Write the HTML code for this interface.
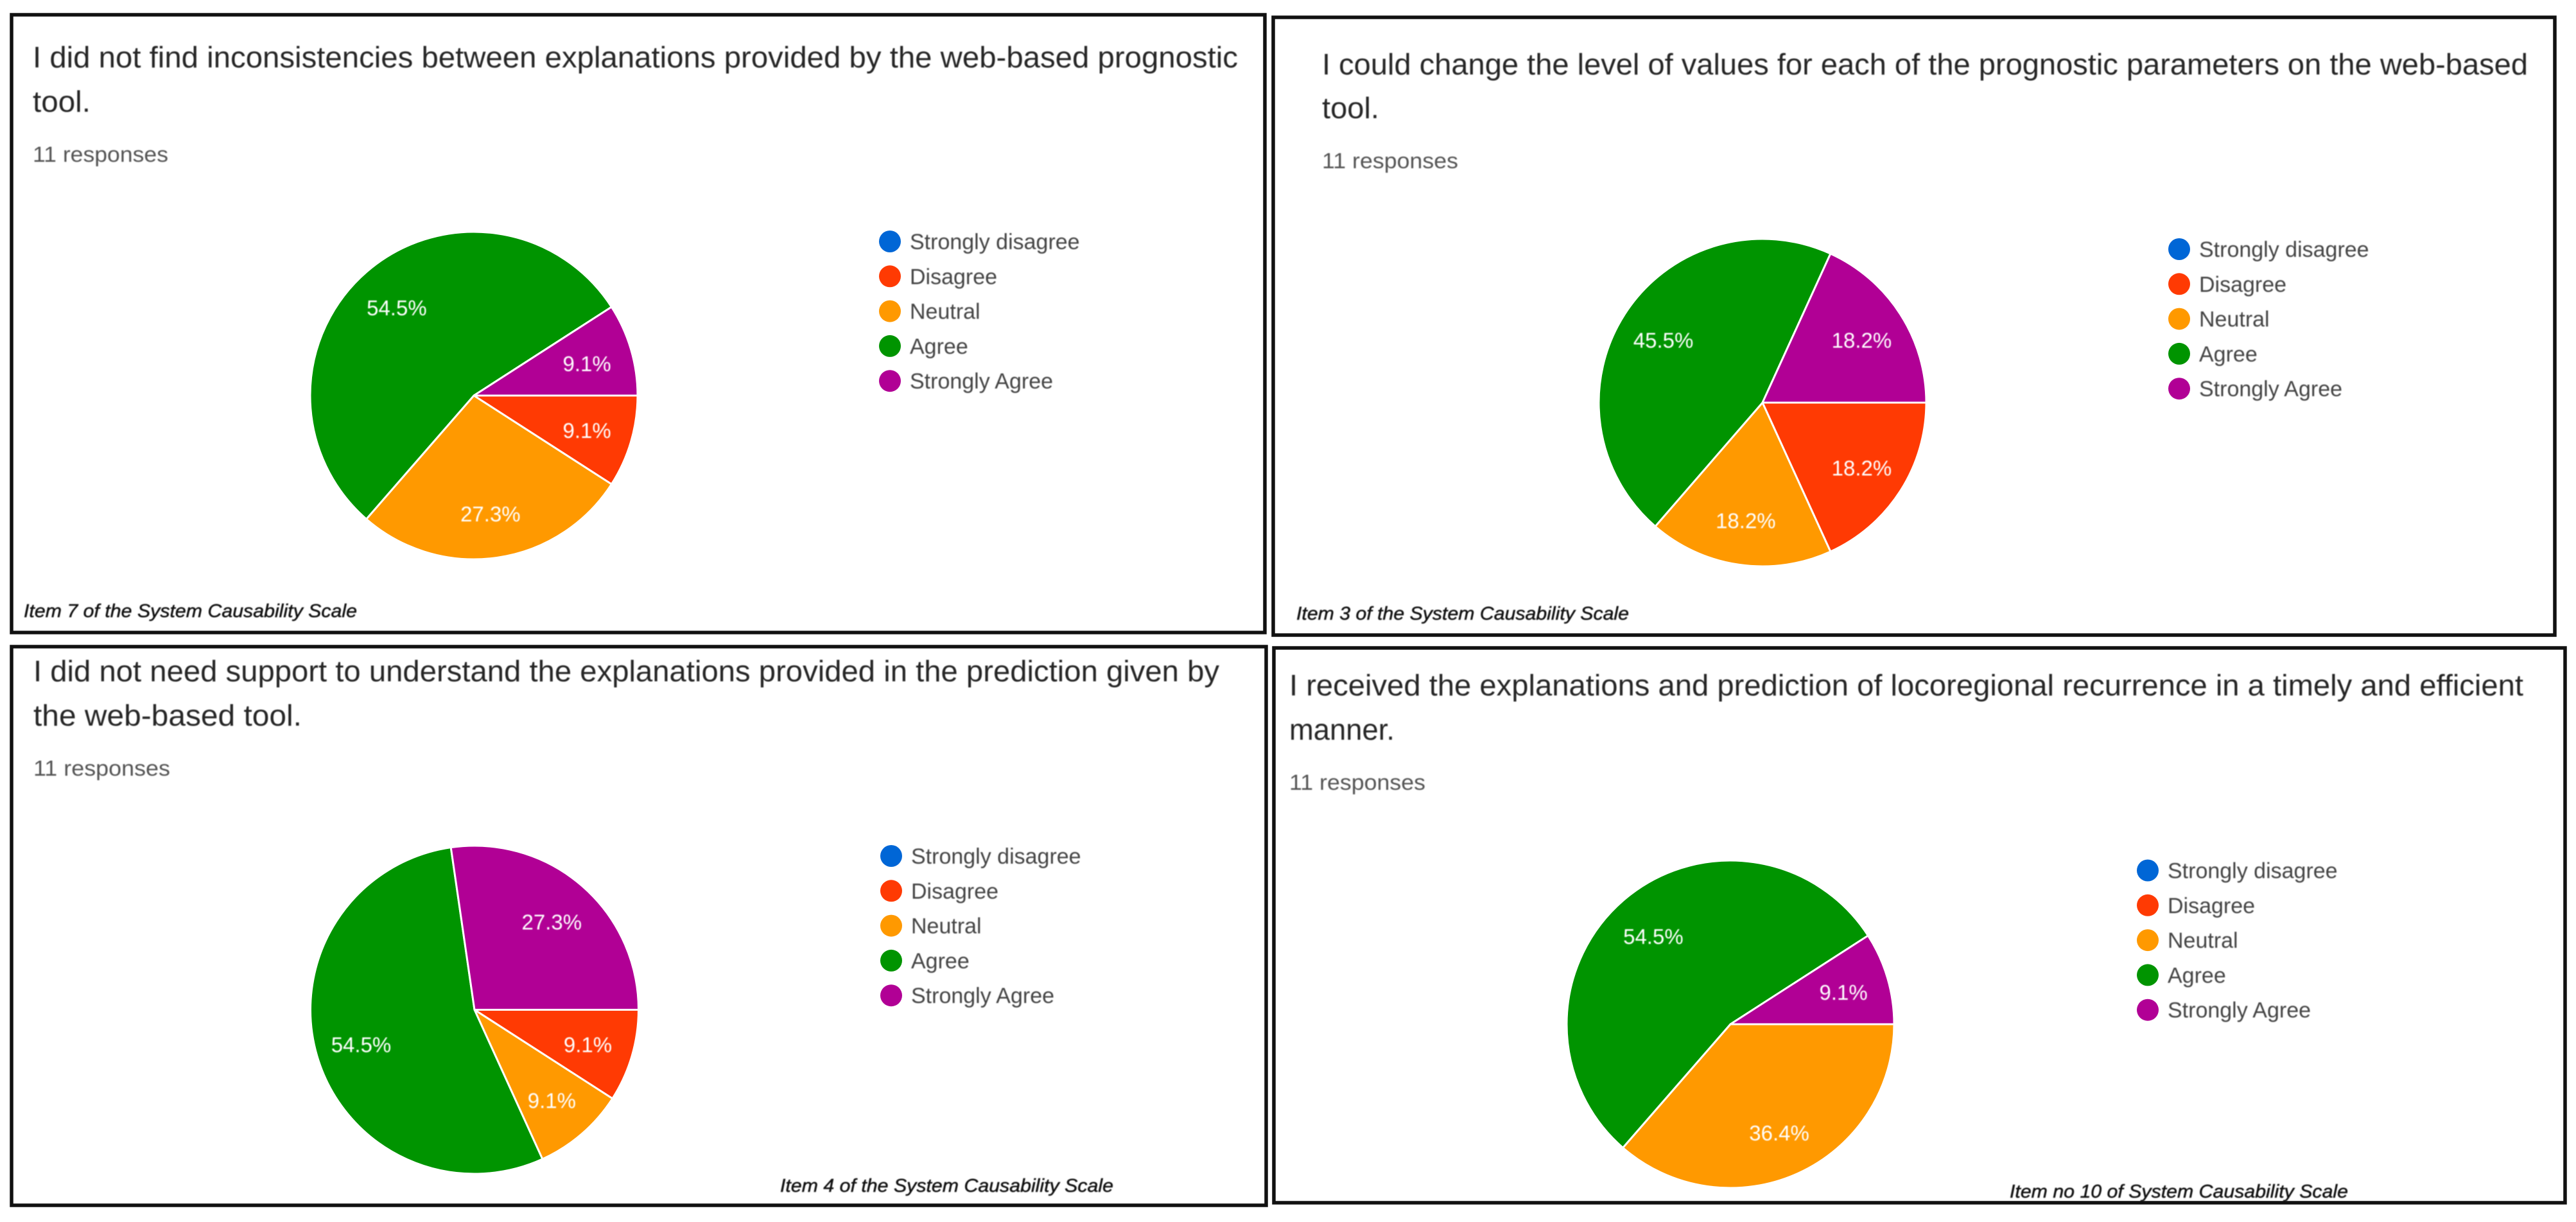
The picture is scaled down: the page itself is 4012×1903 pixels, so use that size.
<!DOCTYPE html>
<html lang="en">
<head>
<meta charset="utf-8">
<title>System Causability Scale survey results</title>
<style>
html,body{margin:0;padding:0;background:#fff;}
svg{display:block;}
text{font-family:"Liberation Sans",Arial,sans-serif;filter:blur(0.7px);}
.title{font-size:46px;fill:#262626;}
.resp{font-size:34px;fill:#555;}
.note{font-size:29px;font-style:italic;fill:#111;stroke:#111;stroke-width:.5px;}
.legend-text{font-size:34px;fill:#444;}
.value{font-size:33px;fill:#fff;text-anchor:middle;}
.frame{fill:#fff;stroke:#111;stroke-width:5.5;}
.slice{stroke:#fff;stroke-width:3;stroke-linejoin:round;}
</style>
</head>
<body>
<svg id="figure" xmlns="http://www.w3.org/2000/svg" width="4012" height="1903" viewBox="0 0 4012 1903">
  <rect width="4012" height="1903" fill="#fff"/>

  <g id="panel-item7">
    <rect class="frame" x="18" y="23" width="1952" height="962"/>
    <text class="title" x="51" y="105" textLength="1877" lengthAdjust="spacingAndGlyphs">I did not find inconsistencies between explanations provided by the web-based prognostic</text>
    <text class="title" x="51" y="174" textLength="90" lengthAdjust="spacingAndGlyphs">tool.</text>
    <text class="resp" x="51" y="252" textLength="211" lengthAdjust="spacingAndGlyphs">11 responses</text>
    <text class="note" x="37" y="961" textLength="519" lengthAdjust="spacingAndGlyphs">Item 7 of the System Causability Scale</text>
  </g>

  <g id="panel-item3">
    <rect class="frame" x="1983" y="27" width="1996" height="962"/>
    <text class="title" x="2059" y="116" textLength="1878" lengthAdjust="spacingAndGlyphs">I could change the level of values for each of the prognostic parameters on the web-based</text>
    <text class="title" x="2059" y="184" textLength="89" lengthAdjust="spacingAndGlyphs">tool.</text>
    <text class="resp" x="2059" y="262" textLength="212" lengthAdjust="spacingAndGlyphs">11 responses</text>
    <text class="note" x="2019" y="965" textLength="518" lengthAdjust="spacingAndGlyphs">Item 3 of the System Causability Scale</text>
  </g>

  <g id="panel-item4">
    <rect class="frame" x="18" y="1007" width="1954" height="870"/>
    <text class="title" x="52" y="1061" textLength="1847" lengthAdjust="spacingAndGlyphs">I did not need support to understand the explanations provided in the prediction given by</text>
    <text class="title" x="52" y="1130" textLength="418" lengthAdjust="spacingAndGlyphs">the web-based tool.</text>
    <text class="resp" x="52" y="1208" textLength="213" lengthAdjust="spacingAndGlyphs">11 responses</text>
    <text class="note" x="1215" y="1856" textLength="519" lengthAdjust="spacingAndGlyphs">Item 4 of the System Causability Scale</text>
  </g>

  <g id="panel-item10">
    <rect class="frame" x="1984" y="1009" width="2011" height="864"/>
    <text class="title" x="2008" y="1083" textLength="1922" lengthAdjust="spacingAndGlyphs">I received the explanations and prediction of locoregional recurrence in a timely and efficient</text>
    <text class="title" x="2008" y="1152" textLength="164" lengthAdjust="spacingAndGlyphs">manner.</text>
    <text class="resp" x="2008" y="1230" textLength="212" lengthAdjust="spacingAndGlyphs">11 responses</text>
    <text class="note" x="3130" y="1865" textLength="527" lengthAdjust="spacingAndGlyphs">Item no 10 of System Causability Scale</text>
  </g>
</svg>

<script>
// Chart data
const categories = ["Strongly disagree", "Disagree", "Neutral", "Agree", "Strongly Agree"];
const item7Percent = [0, 9.1, 27.3, 54.5, 9.1];
const item3Percent = [0, 18.2, 18.2, 45.5, 18.2];
const item4Percent = [0, 9.1, 9.1, 54.5, 27.3];
const item10Percent = [0, 0, 36.4, 54.5, 9.1];

// Styling and layout
const sliceColors = ["#0066d6", "#ff3a03", "#ff9900", "#009400", "#b10095"];
const legendStep = 54.3;
const legendTextGap = 31;
const labelRadiusRatio = 0.72;

const NS = "http://www.w3.org/2000/svg";

function angleOf(cumulativeShare) {
  return cumulativeShare * 2 * Math.PI;
}
function pointAt(cx, cy, r, angle) {
  return [cx + r * Math.cos(angle), cy + r * Math.sin(angle)];
}

function drawPie(groupId, prefix, values, cx, cy, r) {
  const group = document.getElementById(groupId);
  const pie = document.createElementNS(NS, "g");
  
  
  group.appendChild(pie);

  const total = values.reduce(function (a, b) { return a + b; }, 0);
  let cumulative = 0;
  values.forEach(function (value, i) {
    if (value <= 0) return;
    const share = value / total;
    const a0 = angleOf(cumulative);
    const a1 = angleOf(cumulative + share);
    const p0 = pointAt(cx, cy, r, a0);
    const p1 = pointAt(cx, cy, r, a1);
    const large = share > 0.5 ? 1 : 0;
    const slice = document.createElementNS(NS, "path");
    slice.setAttribute("d", "M" + cx + " " + cy + "L" + p0[0] + " " + p0[1] + "A" + r + " " + r + " 0 " + large + " 1 " + p1[0] + " " + p1[1] + "Z");
    slice.setAttribute("fill", sliceColors[i]);
    slice.setAttribute("class", "slice");
    
    
    pie.appendChild(slice);
    cumulative += share;
  });

  cumulative = 0;
  values.forEach(function (value, i) {
    if (value <= 0) return;
    const share = value / total;
    const mid = angleOf(cumulative + share / 2);
    const p = pointAt(cx, cy, r * labelRadiusRatio, mid);
    const label = document.createElementNS(NS, "text");
    label.setAttribute("x", p[0]);
    label.setAttribute("y", p[1] + 14);
    label.setAttribute("class", "value");
    
    
    label.textContent = value.toFixed(1) + "%";
    pie.appendChild(label);
    cumulative += share;
  });
}

function drawLegend(groupId, prefix, x, y) {
  const group = document.getElementById(groupId);
  const legend = document.createElementNS(NS, "g");
  
  
  group.appendChild(legend);

  categories.forEach(function (category, i) {
    const rowY = y + i * legendStep;
    const entry = document.createElementNS(NS, "g");
    
    
    legend.appendChild(entry);

    const dot = document.createElementNS(NS, "circle");
    dot.setAttribute("cx", x);
    dot.setAttribute("cy", rowY);
    dot.setAttribute("r", 17);
    dot.setAttribute("fill", sliceColors[i]);
    
    
    entry.appendChild(dot);

    const text = document.createElementNS(NS, "text");
    text.setAttribute("x", x + legendTextGap);
    text.setAttribute("y", rowY + 12);
    text.setAttribute("class", "legend-text");
    
    
    text.textContent = category;
    entry.appendChild(text);
  });
}

drawPie("panel-item7", "item-7", item7Percent, 738, 616, 255);
drawLegend("panel-item7", "item-7", 1386, 376);

drawPie("panel-item3", "item-3", item3Percent, 2745, 627, 255);
drawLegend("panel-item3", "item-3", 3394, 388);

drawPie("panel-item4", "item-4", item4Percent, 739, 1572.5, 255.5);
drawLegend("panel-item4", "item-4", 1388, 1333);

drawPie("panel-item10", "item-10", item10Percent, 2695, 1595, 255);
drawLegend("panel-item10", "item-10", 3345, 1355.5);
</script>
</body>
</html>
